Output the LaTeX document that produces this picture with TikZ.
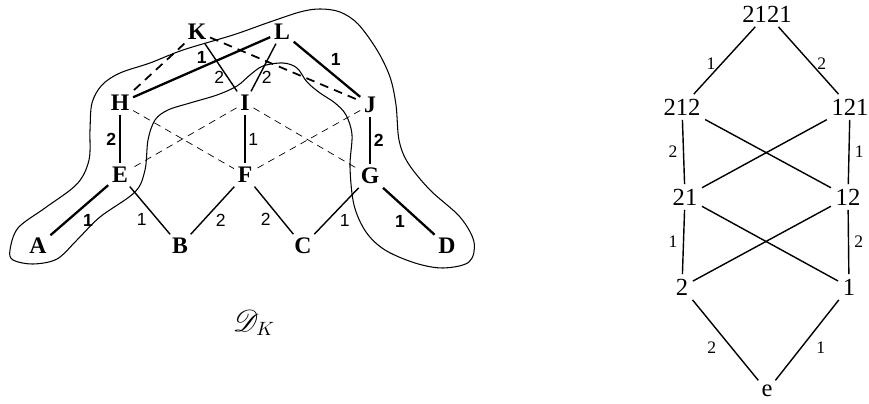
\documentclass[tikz,border=0pt]{standalone}
\usepackage{fontspec}
\setmainfont{Liberation Serif}
\setsansfont{Liberation Sans}
\usepackage{mathrsfs}
\begin{document}
\begin{tikzpicture}[
  x=0.02cm, y=-0.02cm,
  vtx/.style={font=\bfseries\fontsize{13.5}{15}\selectfont, inner sep=2pt},
  elem/.style={font=\fontsize{14}{16}\selectfont, inner sep=2.5pt},
  lab/.style={font=\sffamily\fontsize{10}{11}\selectfont, inner sep=1.5pt},
  blab/.style={lab, font=\sffamily\bfseries\fontsize{10}{11}\selectfont},
  rlab/.style={font=\fontsize{10}{11}\selectfont, inner sep=3pt},
  bond/.style={line width=1.3pt},
  arc/.style={line width=0.8pt},
  dbond/.style={line width=1pt, dash pattern=on 5pt off 3.5pt},
  darc/.style={line width=0.4pt, dash pattern=on 4pt off 3pt},
]
  \useasboundingbox (0,0) rectangle (869,404);

  % left graph
  \node[vtx] (K) at (197,32) {K};
  \node[vtx] (L) at (282,32) {L};
  \node[vtx] (H) at (120,103) {H};
  \node[vtx] (I) at (245,103) {I};
  \node[vtx] (J) at (370,105) {J};
  \node[vtx] (E) at (120,175) {E};
  \node[vtx] (F) at (245,175) {F};
  \node[vtx] (G) at (370,176) {G};
  \node[vtx] (A) at (38,246) {A};
  \node[vtx] (B) at (180,246) {B};
  \node[vtx] (C) at (303,246) {C};
  \node[vtx] (D) at (447,246) {D};
  \node[font=\fontsize{16}{18}\selectfont] (DK) at (254,323) {$\mathscr{D}_K$};

  \draw[bond] (A) -- node[blab, below right] {1} (E);
  \draw[arc] (E) -- node[lab, below left] {1} (B);
  \draw[arc] (B) -- node[lab, below right] {2} (F);
  \draw[arc] (F) -- node[lab, below left] {2} (C);
  \draw[arc] (C) -- node[lab, below right] {1} (G);
  \draw[bond] (G) -- node[blab, below left] {1} (D);
  \draw[bond] (H) -- node[blab, left] {2} (E);
  \draw[arc] (I) -- node[lab, right] {1} (F);
  \draw[bond] (J) -- node[blab, right] {2} (G);
  \draw[bond] (H) -- node[blab, above] {1} (L);
  \draw[arc] (K) -- node[lab, pos=0.7, left] {2} (I);
  \draw[arc] (L) -- node[lab, pos=0.7, right] {2} (I);
  \draw[bond] (L) -- node[blab, above right] {1} (J);
  \draw[dbond] (K) -- (H);
  \draw[dbond] (K) -- (J);
  \draw[darc] (H) -- (F);
  \draw[darc] (I) -- (E);
  \draw[darc] (I) -- (G);
  \draw[darc] (J) -- (F);

  % the loop round D_K
  \draw[line width=0.6pt] plot[smooth cycle, tension=0.55] coordinates {
    (10,250) (18,228) (45,208) (77,184) (89,160) (90,130) (92,103)
    (102,85) (120,73) (150,63) (183,50) (233,35) (267,23) (300,12)
    (320,9) (340,12) (358,24) (377,50) (390,77) (396,105) (399,140)
    (408,163) (430,190) (460,217) (474,242) (469,262) (443,268)
    (415,263) (385,250) (366,232) (354,205) (350,167) (352,135)
    (346,115) (335,103) (320,93) (307,82) (297,68) (283,63) (263,66)
    (250,75) (237,86) (217,95) (190,103) (168,110) (155,120)
    (148,140) (145,170) (135,192) (100,217) (77,240) (57,259)
    (33,264) (13,260)};

  % right graph
  \node[elem] (w2121) at (767,14) {2121};
  \node[elem] (w212) at (682,107) {212};
  \node[elem] (w121) at (850,107) {121};
  \node[elem] (w21) at (685,197) {21};
  \node[elem] (w12) at (848,197) {12};
  \node[elem] (w2) at (682,287) {2};
  \node[elem] (w1) at (849,287) {1};
  \node[elem] (we) at (767,391) {e};

  \draw[arc] (w2121) -- node[rlab, pos=0.55, left] {1} (w212);
  \draw[arc] (w2121) -- node[rlab, pos=0.55, right] {2} (w121);
  \draw[arc] (w212) -- node[rlab, left] {2} (w21);
  \draw[arc] (w121) -- node[rlab, right] {1} (w12);
  \draw[arc] (w212) -- (w12);
  \draw[arc] (w121) -- (w21);
  \draw[arc] (w21) -- node[rlab, left] {1} (w2);
  \draw[arc] (w12) -- node[rlab, right] {2} (w1);
  \draw[arc] (w21) -- (w1);
  \draw[arc] (w12) -- (w2);
  \draw[arc] (w2) -- node[rlab, pos=0.45, below left] {2} (we);
  \draw[arc] (w1) -- node[rlab, pos=0.45, below right] {1} (we);
\end{tikzpicture}
\end{document}
